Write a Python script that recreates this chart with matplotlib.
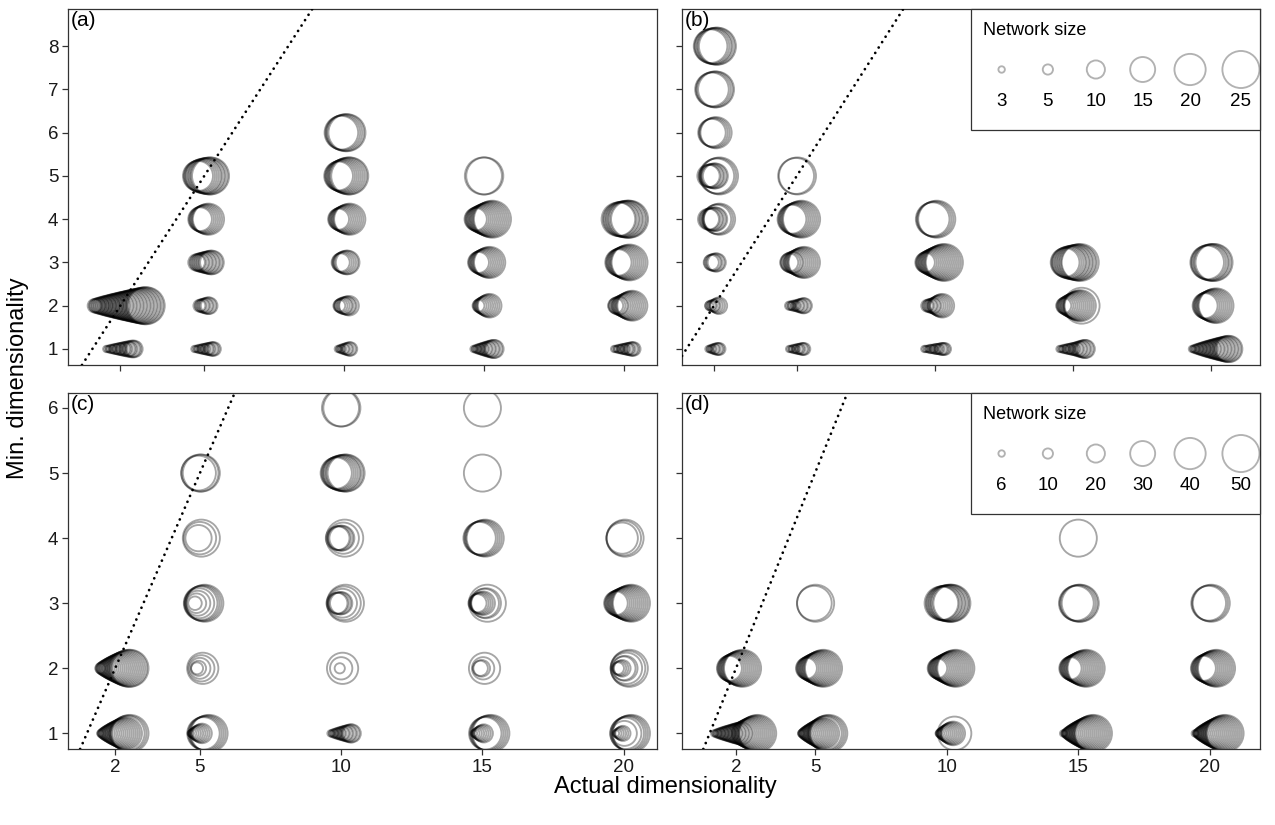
import matplotlib.pyplot as plt
from matplotlib.patches import Rectangle
import numpy as np

plt.rcParams['font.family'] = ['Liberation Sans', 'DejaVu Sans']

actual_dims = [2, 5, 10, 15, 20]
sizes_small = [3, 4, 5, 6, 7, 8, 9, 10, 11, 12, 13, 14, 15, 16, 17, 18, 19, 20, 21, 22, 23, 24, 25]
sizes_large = [6, 8, 10, 12, 14, 16, 18, 20, 22, 24, 26, 28, 30, 32, 34, 36, 38, 40, 42, 44, 46, 48, 50]
legend_small = [3, 5, 10, 15, 20, 25]
legend_large = [6, 10, 20, 30, 40, 50]

# runs: (actual dim, min dim, smallest size, largest size, trials per size)
runs_a = [
    (2, 1, 3, 9, 3), (2, 2, 7, 25, 2),
    (5, 1, 3, 7, 3), (5, 2, 6, 9, 2), (5, 3, 9, 14, 2), (5, 4, 14, 20, 1),
    (5, 5, 19, 25, 1), (5, 5, 23, 25, 1),
    (10, 1, 3, 7, 2), (10, 2, 6, 11, 1), (10, 2, 9, 10, 1), (10, 3, 10, 14, 1),
    (10, 3, 14, 14, 1), (10, 4, 12, 20, 1), (10, 5, 18, 25, 1), (10, 5, 25, 25, 1),
    (10, 6, 22, 25, 1), (10, 6, 25, 25, 1),
    (15, 1, 3, 10, 2), (15, 2, 6, 14, 1), (15, 3, 12, 20, 1), (15, 4, 13, 25, 1),
    (15, 5, 25, 25, 2),
    (20, 1, 3, 7, 3), (20, 2, 8, 19, 1), (20, 2, 10, 10, 1), (20, 3, 16, 22, 1),
    (20, 3, 23, 24, 1), (20, 4, 22, 25, 2), (20, 4, 25, 25, 1),
]
runs_b = [
    (2, 1, 3, 6, 2), (2, 1, 6, 6, 1), (2, 2, 4, 8, 1), (2, 2, 5, 6, 1), (2, 2, 9, 9, 1),
    (2, 3, 8, 10, 1), (2, 3, 9, 10, 1), (2, 4, 12, 14, 2), (2, 4, 18, 20, 1),
    (2, 5, 13, 15, 2), (2, 5, 23, 25, 1), (2, 6, 17, 20, 1), (2, 7, 22, 24, 1),
    (2, 7, 24, 24, 1), (2, 8, 22, 25, 1), (2, 8, 24, 25, 1),
    (5, 1, 3, 6, 3), (5, 2, 4, 8, 2), (5, 2, 4, 5, 1), (5, 3, 10, 20, 1), (5, 3, 12, 12, 1),
    (5, 4, 18, 25, 1), (5, 5, 24, 25, 1),
    (10, 1, 3, 6, 4), (10, 2, 6, 14, 1), (10, 2, 6, 8, 1), (10, 3, 11, 25, 1),
    (10, 4, 22, 25, 1),
    (15, 1, 3, 10, 2), (15, 1, 3, 6, 1), (15, 2, 8, 20, 1), (15, 2, 24, 24, 1),
    (15, 3, 18, 25, 1), (15, 3, 21, 24, 1),
    (20, 1, 3, 16, 2), (20, 2, 15, 23, 1), (20, 3, 22, 25, 1), (20, 3, 24, 25, 1),
]
runs_c = [
    (2, 1, 6, 42, 1), (2, 1, 46, 50, 1), (2, 2, 10, 50, 1), (2, 2, 50, 50, 1),
    (5, 1, 6, 22, 1), (5, 1, 42, 50, 1), (5, 2, 12, 12, 1), (5, 2, 16, 16, 1),
    (5, 2, 24, 24, 1), (5, 2, 32, 32, 1), (5, 2, 40, 40, 1),
    (5, 3, 14, 14, 1), (5, 3, 22, 22, 1), (5, 3, 30, 30, 1), (5, 3, 38, 38, 1), (5, 3, 44, 50, 1),
    (5, 4, 32, 32, 1), (5, 4, 42, 42, 1), (5, 4, 50, 50, 1),
    (5, 5, 46, 46, 1), (5, 5, 50, 50, 2),
    (10, 1, 6, 20, 2), (10, 2, 10, 10, 1), (10, 2, 26, 26, 1), (10, 2, 40, 40, 1),
    (10, 3, 24, 26, 2), (10, 3, 36, 36, 1), (10, 3, 44, 44, 1), (10, 3, 50, 50, 1),
    (10, 4, 28, 30, 2), (10, 4, 40, 40, 1), (10, 4, 50, 50, 1),
    (10, 5, 40, 50, 1), (10, 5, 48, 50, 1), (10, 6, 50, 50, 2),
    (15, 1, 6, 20, 1), (15, 1, 42, 50, 1), (15, 2, 16, 18, 1), (15, 2, 26, 26, 1),
    (15, 2, 40, 40, 1), (15, 3, 20, 28, 1), (15, 3, 36, 38, 1), (15, 3, 50, 50, 1),
    (15, 4, 42, 50, 1), (15, 5, 50, 50, 1), (15, 6, 50, 50, 1),
    (20, 1, 6, 16, 1), (20, 1, 30, 30, 1), (20, 1, 40, 40, 1), (20, 1, 44, 50, 1),
    (20, 2, 12, 18, 1), (20, 2, 28, 30, 1), (20, 2, 40, 40, 1), (20, 2, 46, 46, 1),
    (20, 2, 50, 50, 1), (20, 3, 28, 50, 1), (20, 4, 40, 40, 1), (20, 4, 46, 46, 1),
    (20, 4, 50, 50, 1),
]
runs_d = [
    (2, 1, 6, 50, 1), (2, 1, 6, 26, 1), (2, 2, 30, 50, 1),
    (5, 1, 6, 40, 1), (5, 1, 44, 50, 1), (5, 2, 24, 50, 1), (5, 3, 46, 46, 1), (5, 3, 50, 50, 1),
    (10, 1, 6, 28, 1), (10, 1, 44, 44, 1), (10, 2, 22, 50, 1), (10, 3, 44, 50, 2),
    (10, 3, 50, 50, 1),
    (15, 1, 6, 50, 1), (15, 1, 6, 6, 1), (15, 2, 26, 50, 1), (15, 3, 46, 50, 1),
    (15, 3, 50, 50, 1), (15, 4, 50, 50, 1),
    (20, 1, 6, 50, 1), (20, 1, 6, 6, 1), (20, 2, 30, 50, 1), (20, 3, 46, 50, 1),
]

DPI = 100
LW = 1.35       # ring stroke, pt
ALPHA = 0.35
STEP = 0.05     # horizontal shift between runs sharing a cell


def ring_area(n, unit):
    # outer diameter in px grows as a power of network size
    dpx = 3.75 * (np.asarray(n, dtype=float) / unit) ** 0.727
    dpt = dpx * 72 / DPI - LW
    return dpt ** 2


def draw_panel(ax, runs, sizes, unit):
    cells = {}
    for d, m, lo, hi, n in runs:
        cells.setdefault((d, m), []).extend([s for s in sizes if lo <= s <= hi] * n)
    for (d, m), vals in cells.items():
        vals = sorted(vals)
        k = len(vals)
        xs = d + STEP * (np.arange(k) - (k - 1) / 2)
        ax.scatter(xs, [m] * k, s=ring_area(vals, unit), facecolors='none',
                   edgecolors='black', linewidths=LW, alpha=ALPHA, zorder=2)
    ax.axline((0, 0), (1, 1), color='black', lw=2.0, linestyle=(0, (0.01, 2.3)),
              dash_capstyle='round', zorder=3)


def draw_key(ax, values, unit):
    ax.add_patch(Rectangle((0.5, 0.66), 0.5, 0.34, transform=ax.transAxes,
                           facecolor='white', edgecolor='#333333', lw=0.9,
                           zorder=5, clip_on=False))
    ax.text(0.52, 0.94, 'Network size', transform=ax.transAxes, fontsize=13,
            ha='left', va='center', zorder=6)
    xs = [0.553, 0.633, 0.716, 0.797, 0.879, 0.967]
    ax.scatter(xs, [0.83] * len(xs), s=ring_area(values, unit), transform=ax.transAxes,
               facecolors='none', edgecolors='black', linewidths=LW, alpha=0.3,
               zorder=6, clip_on=False)
    for x, v in zip(xs, values):
        ax.text(x, 0.74, str(v), transform=ax.transAxes, fontsize=13.5,
                ha='center', va='center', zorder=6)


fig = plt.figure(figsize=(12.75, 8.25), dpi=DPI)
h = 356 / 825
ax_a = fig.add_axes([68 / 1275, 0.5576, 589 / 1275, h])
ax_b = fig.add_axes([682 / 1275, 0.5576, 578 / 1275, h])
ax_c = fig.add_axes([68 / 1275, 0.0921, 589 / 1275, h])
ax_d = fig.add_axes([682 / 1275, 0.0921, 578 / 1275, h])

panels = [
    (ax_a, runs_a, sizes_small, 1, '(a)', (0.13, 21.18), (0.63, 8.86)),
    (ax_b, runs_b, sizes_small, 1, '(b)', (0.84, 21.79), (0.63, 8.86)),
    (ax_c, runs_c, sizes_large, 2, '(c)', (0.33, 21.18), (0.76, 6.23)),
    (ax_d, runs_d, sizes_large, 2, '(d)', (-0.05, 21.9), (0.76, 6.23)),
]
for ax, runs, sizes, unit, tag, xl, yl in panels:
    draw_panel(ax, runs, sizes, unit)
    ax.set_xlim(*xl)
    ax.set_ylim(*yl)
    ax.set_xticks(actual_dims)
    ax.set_yticks(range(1, int(yl[1]) + 1))
    ax.tick_params(length=4, width=0.9, color='#333333', labelsize=13.5,
                   labelcolor='#1a1a1a', pad=3)
    for sp in ax.spines.values():
        sp.set_color('#333333')
        sp.set_linewidth(0.9)
    ax.text(0.004, 0.995, tag, transform=ax.transAxes, fontsize=15,
            ha='left', va='top', zorder=4)

for ax in (ax_a, ax_b):
    ax.tick_params(labelbottom=False)
for ax in (ax_b, ax_d):
    ax.tick_params(labelleft=False)

draw_key(ax_b, legend_small, 1)
draw_key(ax_d, legend_large, 2)

fig.text(665 / 1275, 0.046, 'Actual dimensionality', fontsize=17, ha='center', va='center')
fig.text(0.014, 0.541, 'Min. dimensionality', fontsize=17, rotation=90,
         ha='center', va='center')

fig.savefig('out.png', dpi=DPI)
